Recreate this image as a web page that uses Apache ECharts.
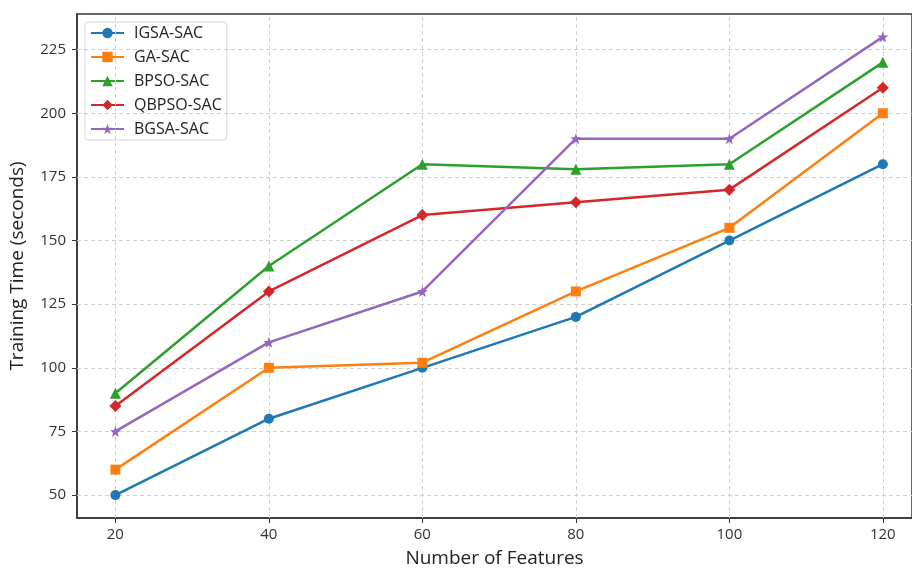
<!DOCTYPE html>
<html><head><meta charset="utf-8">
<script src="https://cdn.jsdelivr.net/npm/echarts@6/dist/echarts.min.js"></script>
<style>html,body{margin:0;padding:0;background:#fff}#c{width:912px;height:568px}</style>
</head><body><div id="c"></div>
<script>
const features = [20, 40, 60, 80, 100, 120];
const xTicks = [20, 40, 60, 80, 100, 120];
const yTicks = [50, 75, 100, 125, 150, 175, 200, 225];
const igsa = [50, 80, 100, 120, 150, 180];
const ga = [60, 100, 102, 130, 155, 200];
const bpso = [90, 140, 180, 178, 180, 220];
const qbpso = [85, 130, 160, 165, 170, 210];
const bgsa = [75, 110, 130, 190, 190, 230];

const seriesDefs = [
  {name:'IGSA-SAC', data:igsa, color:'#1f77b4', symbol:'circle', size:10},
  {name:'GA-SAC', data:ga, color:'#ff7f0e', symbol:'rect', size:10},
  {name:'BPSO-SAC', data:bpso, color:'#2ca02c', symbol:'triangle', size:11},
  {name:'QBPSO-SAC', data:qbpso, color:'#d62728', symbol:'diamond', size:12},
  {name:'BGSA-SAC', data:bgsa, color:'#9467bd', symbol:'path://M0,-10 L2.35,-3.24 L9.51,-3.09 L3.8,1.24 L5.88,8.09 L0,4 L-5.88,8.09 L-3.8,1.24 L-9.51,-3.09 L-2.35,-3.24 Z', size:11}
];
const font = 'Open Sans';
const grid = {lineStyle:{color:'#d0d0d0', type:[4,3], width:1}};
const series = seriesDefs.map((s,i) => ({
  name:s.name, type:'line', data:features.map((f,j)=>[f, s.data[j]]),
  symbol:s.symbol, symbolSize:s.size, z:10+i,
  lineStyle:{color:s.color, width:2.5}, itemStyle:{color:s.color},
  emphasis:{disabled:true}
}));
series.unshift({
  type:'line', data:[], silent:true, z:1,
  markLine:{silent:true, symbol:'none', label:{show:false}, animation:false,
    lineStyle:grid.lineStyle,
    data:[...xTicks.map(v=>({xAxis:v})), ...yTicks.map(v=>({yAxis:v}))]}
});
const chart = echarts.init(document.getElementById('c'));
chart.setOption({
  animation:false,
  textStyle:{fontFamily:font},
  grid:{left:77, top:14, right:0, bottom:50, show:true, borderColor:'#333', borderWidth:1.5,
        containLabel:false, outerBoundsMode:'none'},
  legend:{
    orient:'vertical', left:85, top:22, itemWidth:33, itemHeight:13, itemGap:8,
    backgroundColor:'rgba(255,255,255,0.9)', borderColor:'#d5d5d5', borderWidth:1, borderRadius:3,
    padding:[3,5,3,5],
    textStyle:{fontFamily:font, fontSize:16, color:'#222', padding:[0,0,0,5]},
    data:seriesDefs.map(s=>s.name)
  },
  xAxis:{
    type:'value', min:15, max:123.8,
    name:'Number of Features', nameLocation:'middle', nameGap:31,
    nameTextStyle:{fontFamily:font, fontSize:19, color:'#222'},
    axisLine:{lineStyle:{color:'#333', width:1.5}},
    axisTick:{customValues:xTicks, length:5, lineStyle:{color:'#333'}},
    axisLabel:{customValues:xTicks, fontFamily:font, fontSize:15, color:'#333', margin:9},
    splitLine:{show:false}
  },
  yAxis:{
    type:'value', min:41, max:239,
    name:'Training Time (seconds)', nameLocation:'middle', nameGap:50,
    nameTextStyle:{fontFamily:font, fontSize:19, color:'#222'},
    axisLine:{show:true, lineStyle:{color:'#333', width:1.5}},
    axisTick:{show:true, customValues:yTicks, length:5, lineStyle:{color:'#333'}},
    axisLabel:{customValues:yTicks, fontFamily:font, fontSize:15, color:'#333', margin:11},
    splitLine:{show:false}
  },
  series:series
});
</script></body></html>
